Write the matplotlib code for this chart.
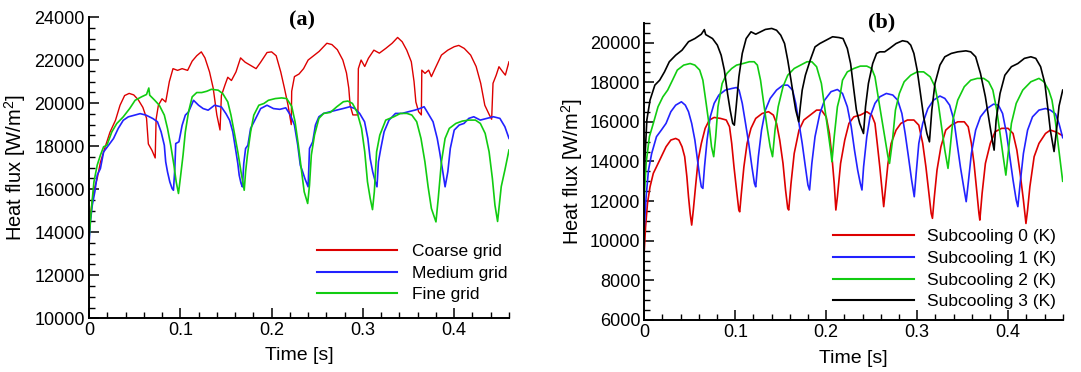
import numpy as np
import matplotlib
matplotlib.use('Agg')
import matplotlib.pyplot as plt
from matplotlib.ticker import MultipleLocator, FuncFormatter

plt.rcParams['font.family'] = ['Liberation Sans', 'DejaVu Sans']
plt.rcParams['mathtext.fontset'] = 'custom'
plt.rcParams['mathtext.rm'] = 'Liberation Sans'
plt.rcParams['mathtext.default'] = 'regular'

# ---------------- Panel (a): grid study ----------------
t_coarse = [0.000, 0.002, 0.005, 0.009, 0.0125, 0.018, 0.023, 0.029, 0.034, 0.039,
            0.044, 0.049, 0.054, 0.059, 0.063, 0.065, 0.069, 0.0725, 0.0735, 0.076,
            0.080, 0.084, 0.088, 0.092, 0.097, 0.102, 0.108, 0.113, 0.118, 0.123,
            0.127, 0.132, 0.136, 0.140, 0.1435, 0.145, 0.149, 0.152, 0.156, 0.161,
            0.166, 0.171, 0.177, 0.183, 0.188, 0.195, 0.200, 0.205, 0.210, 0.214,
            0.218, 0.2215, 0.222, 0.225, 0.230, 0.235, 0.240, 0.246, 0.252, 0.2605,
            0.266, 0.272, 0.278, 0.282, 0.2845, 0.286, 0.289, 0.2945, 0.295, 0.298,
            0.302, 0.306, 0.312, 0.318, 0.325, 0.332, 0.338, 0.343, 0.348, 0.353,
            0.356, 0.358, 0.361, 0.364, 0.3645, 0.368, 0.372, 0.375, 0.379, 0.386,
            0.393, 0.400, 0.405, 0.411, 0.418, 0.424, 0.429, 0.4335, 0.4385, 0.441,
            0.4425, 0.446, 0.449, 0.453, 0.456, 0.460]
q_coarse = [13900, 14950, 15900, 16500, 17250, 18000, 18650, 19200, 19900, 20350,
            20450, 20380, 20150, 19800, 19300, 18100, 17800, 17450, 19250, 19900,
            20200, 20050, 21000, 21600, 21520, 21600, 21520, 21950, 22200, 22380,
            22100, 21450, 20700, 19450, 18750, 20350, 20850, 21200, 21050, 21450,
            22100, 21900, 21750, 21600, 21900, 22350, 22380, 22200, 21450, 20700,
            19900, 19000, 20550, 21230, 21350, 21600, 22000, 22200, 22400, 22780,
            22720, 22480, 22000, 21400, 20700, 19900, 19450, 19450, 21600, 22000,
            21700, 22080, 22460, 22320, 22540, 22780, 23050, 22850, 22460, 21920,
            21000, 20050, 19600, 19450, 21530, 21380, 21530, 21230, 21600, 22230,
            22460, 22620, 22680, 22540, 22230, 21700, 20920, 19900, 19450, 19250,
            20920, 21300, 21690, 21460, 21300, 21920]

t_medium = [0.000, 0.0015, 0.0036, 0.0064, 0.009, 0.0125, 0.016, 0.0214, 0.0268, 0.032,
            0.0375, 0.043, 0.050, 0.056, 0.0625, 0.070, 0.075, 0.079, 0.0825, 0.084,
            0.086, 0.0885, 0.091, 0.0925, 0.094, 0.095, 0.0985, 0.102, 0.1055, 0.109,
            0.1145, 0.120, 0.125, 0.1305, 0.1375, 0.145, 0.150, 0.154, 0.1575, 0.161,
            0.163, 0.1645, 0.1665, 0.168, 0.1695, 0.1715, 0.174, 0.177, 0.1825, 0.188,
            0.195, 0.202, 0.209, 0.2155, 0.2205, 0.225, 0.2286, 0.2314, 0.234, 0.2364,
            0.240, 0.2415, 0.245, 0.248, 0.2518, 0.257, 0.2643, 0.2714, 0.2786, 0.2857,
            0.291, 0.2964, 0.3018, 0.3054, 0.3079, 0.3107, 0.3136, 0.3154, 0.317, 0.3196,
            0.3232, 0.3286, 0.3357, 0.3429, 0.350, 0.3571, 0.3625, 0.367, 0.3714, 0.3768,
            0.3814, 0.384, 0.3875, 0.390, 0.393, 0.3957, 0.400, 0.4054, 0.4107, 0.416,
            0.4214, 0.4286, 0.4357, 0.4429, 0.450, 0.4555, 0.460]
q_medium = [13400, 14480, 15260, 15880, 16650, 16960, 17730, 18040, 18350, 18820,
            19200, 19360, 19440, 19510, 19440, 19280, 19130, 18660, 18040, 17270,
            16800, 16340, 16030, 15950, 16960, 18120, 18200, 18970, 19440, 19590,
            20130, 19900, 19745, 19670, 19900, 19820, 19510, 19200, 18660, 17730,
            17190, 16650, 16270, 16110, 17190, 17890, 18040, 18820, 19280, 19745,
            19900, 19745, 19710, 19780, 19450, 18978, 18050, 17118, 16810, 16500,
            16110, 17893, 18200, 18978, 19365, 19520, 19600, 19675, 19750, 19830,
            19750, 19520, 19133, 18358, 17428, 16810, 16343, 16110, 17273, 17893,
            18668, 19210, 19520, 19520, 19600, 19675, 19750, 19830, 19520, 19133,
            18358, 17738, 16810, 16110, 16810, 17893, 18745, 18978, 19055, 19288,
            19365, 19210, 19288, 19365, 19290, 18900, 18360]

t_fine = [0.000, 0.003, 0.0054, 0.009, 0.0125, 0.016, 0.0196, 0.025, 0.0304, 0.0375,
          0.0446, 0.0505, 0.0575, 0.063, 0.0655, 0.0665, 0.072, 0.077, 0.0825, 0.086,
          0.0895, 0.093, 0.0955, 0.098, 0.100, 0.103, 0.1055, 0.109, 0.113, 0.118,
          0.1235, 0.129, 0.134, 0.1415, 0.1465, 0.152, 0.1555, 0.159, 0.163, 0.1665,
          0.170, 0.1715, 0.1735, 0.177, 0.1805, 0.186, 0.1915, 0.1965, 0.204, 0.211,
          0.2165, 0.222, 0.2257, 0.2293, 0.2329, 0.2357, 0.2395, 0.2415, 0.2435, 0.247,
          0.2518, 0.257, 0.2643, 0.2714, 0.2786, 0.2835, 0.2885, 0.2935, 0.2985, 0.302,
          0.305, 0.308, 0.3105, 0.3125, 0.315, 0.3185, 0.325, 0.3339, 0.3411, 0.3482,
          0.3536, 0.3589, 0.3636, 0.3679, 0.3714, 0.375, 0.380, 0.3825, 0.386, 0.390,
          0.3946, 0.4018, 0.4089, 0.416, 0.4232, 0.4286, 0.4339, 0.4382, 0.4418, 0.4446,
          0.4475, 0.4515, 0.4555, 0.460]
q_fine = [13700, 15260, 16340, 17120, 17580, 17970, 18040, 18660, 19050, 19360,
          19750, 20130, 20290, 20400, 20700, 20365, 20130, 19900, 19440, 18820,
          18040, 17120, 16340, 15800, 16500, 17580, 18660, 19590, 20290, 20490,
          20490, 20550, 20640, 20600, 20440, 20055, 19440, 18660, 17730, 16800,
          15950, 16800, 17580, 18660, 19440, 19900, 19980, 20130, 20210, 20240,
          20210, 19850, 19133, 18048, 16808, 15878, 15335, 16188, 17583, 18513,
          19288, 19520, 19567, 19830, 20063, 20094, 19985, 19598, 18823, 17738,
          16343, 15568, 15050, 15878, 17738, 18513, 19210, 19365, 19520, 19520,
          19443, 19133, 18358, 17273, 16110, 15103, 14480, 15568, 17273, 18358,
          18823, 19055, 19164, 19210, 19210, 19055, 18590, 17738, 16498, 15258,
          14500, 16120, 16890, 17820]

# ---------------- Panel (b): subcooling study ----------------
t_sub0 = [0.000, 0.0014, 0.0035, 0.0063, 0.0099, 0.0134, 0.0187, 0.0239, 0.0292, 0.0345,
          0.038, 0.0415, 0.0444, 0.0468, 0.0486, 0.0504, 0.0521, 0.0539, 0.0563, 0.0592,
          0.0627, 0.0669, 0.0715, 0.0768, 0.0838, 0.0901, 0.0937, 0.0961, 0.0986, 0.1014,
          0.1039, 0.1049, 0.1067, 0.1095, 0.113, 0.1173, 0.1225, 0.1296, 0.1366, 0.1419,
          0.1454, 0.1489, 0.1525, 0.1553, 0.1577, 0.1588, 0.1613, 0.1648, 0.1701, 0.1754,
          0.1824, 0.1894, 0.1947, 0.200, 0.2035, 0.2063, 0.2088, 0.2106, 0.2123, 0.2158,
          0.2204, 0.225, 0.2304, 0.2375, 0.2446, 0.250, 0.2536, 0.2561, 0.2589, 0.2614,
          0.2632, 0.265, 0.2679, 0.2714, 0.2768, 0.2821, 0.2893, 0.2964, 0.3018, 0.3061,
          0.3096, 0.3125, 0.3154, 0.3168, 0.3189, 0.3218, 0.3261, 0.3314, 0.3375, 0.3446,
          0.3518, 0.3561, 0.3596, 0.3625, 0.3654, 0.3679, 0.3689, 0.3714, 0.375, 0.3804,
          0.3857, 0.3929, 0.400, 0.4054, 0.4096, 0.4132, 0.4168, 0.4196, 0.4214, 0.4239,
          0.4286, 0.4339, 0.4411, 0.4464, 0.452, 0.460]
q_sub0 = [9530, 10700, 11880, 12720, 13400, 13730, 14240, 14740, 15080, 15160,
          15080, 14740, 14240, 13230, 12220, 11380, 10790, 11550, 12720, 14070,
          14910, 15670, 16090, 16220, 16170, 16090, 15750, 14910, 13730, 12560,
          11550, 11460, 12390, 13730, 14910, 15670, 16170, 16420, 16510, 16340,
          15920, 15080, 13900, 12560, 11630, 11550, 12890, 14400, 15580, 16090,
          16340, 16590, 16590, 16250, 15410, 14240, 12890, 11550, 12220, 13900,
          15080, 15920, 16250, 16340, 16510, 16340, 15920, 14910, 13730, 12560,
          11720, 12560, 13900, 14910, 15580, 15920, 16090, 16090, 15830, 14910,
          13730, 12560, 11380, 11130, 12220, 13560, 14740, 15580, 15830, 16000,
          16000, 15750, 14910, 13900, 12560, 11380, 11040, 12390, 13900, 14910,
          15500, 15670, 15670, 15410, 14570, 13400, 12050, 10870, 11550, 12720,
          14240, 14910, 15410, 15580, 15500, 15300]

t_sub1 = [0.000, 0.002, 0.0046, 0.0081, 0.0134, 0.0187, 0.0239, 0.0292, 0.0345, 0.0408,
          0.0451, 0.0486, 0.0521, 0.0556, 0.0585, 0.0609, 0.0627, 0.0644, 0.0662, 0.069,
          0.0725, 0.0768, 0.082, 0.0891, 0.0961, 0.1014, 0.1042, 0.1077, 0.1113, 0.1148,
          0.1183, 0.1211, 0.1225, 0.1254, 0.1289, 0.1331, 0.1384, 0.1454, 0.1525, 0.1577,
          0.163, 0.1665, 0.1701, 0.1736, 0.1771, 0.1799, 0.1817, 0.1842, 0.1877, 0.193,
          0.1982, 0.2053, 0.2123, 0.2179, 0.2232, 0.2275, 0.2311, 0.2346, 0.2375, 0.2393,
          0.2411, 0.2446, 0.2482, 0.2536, 0.2589, 0.2661, 0.2732, 0.2786, 0.2832, 0.2868,
          0.2904, 0.2939, 0.2968, 0.2989, 0.3018, 0.3061, 0.3118, 0.3179, 0.325, 0.3304,
          0.3357, 0.3404, 0.3439, 0.3475, 0.3511, 0.3539, 0.3561, 0.3596, 0.3643, 0.3696,
          0.3768, 0.3839, 0.3893, 0.3939, 0.3982, 0.4018, 0.4054, 0.4089, 0.4107, 0.4132,
          0.4168, 0.4214, 0.4268, 0.4339, 0.4411, 0.4464, 0.452, 0.456, 0.460]
q_sub1 = [10700, 12220, 13560, 14400, 15250, 15580, 15920, 16510, 16840, 17010,
          16840, 16510, 15920, 15080, 14070, 13230, 12720, 12640, 13730, 15080,
          16250, 16930, 17350, 17600, 17680, 17730, 17600, 16930, 15920, 14910,
          13730, 12890, 12720, 14240, 15580, 16590, 17180, 17600, 17850, 17850,
          17600, 16930, 15920, 14910, 13730, 12810, 12560, 13900, 15250, 16420,
          17090, 17520, 17630, 17430, 16760, 15750, 14570, 13560, 12890, 12560,
          13730, 15250, 16250, 16930, 17260, 17430, 17350, 17090, 16420, 15410,
          14240, 13060, 12220, 13400, 14910, 15920, 16670, 17090, 17300, 17180,
          16840, 16090, 14910, 13730, 12720, 11970, 12890, 14400, 15580, 16250,
          16670, 16890, 16840, 16420, 15410, 14240, 13060, 12050, 11720, 12890,
          14400, 15580, 16250, 16590, 16670, 16590, 16400, 15900, 15200]

t_sub2 = [0.000, 0.002, 0.0056, 0.0099, 0.0151, 0.0204, 0.0257, 0.031, 0.0363, 0.0433,
          0.0504, 0.0556, 0.0609, 0.0644, 0.068, 0.0715, 0.0739, 0.0763, 0.0785, 0.081,
          0.0856, 0.0908, 0.0961, 0.1014, 0.1085, 0.1155, 0.1208, 0.1243, 0.1278, 0.1313,
          0.1349, 0.1384, 0.1410, 0.1437, 0.1472, 0.1525, 0.1577, 0.1648, 0.1718, 0.1789,
          0.1842, 0.1894, 0.1947, 0.1982, 0.2018, 0.2053, 0.2063, 0.2088, 0.2123, 0.2150,
          0.2179, 0.2232, 0.2304, 0.2375, 0.2446, 0.250, 0.2536, 0.2571, 0.2607, 0.2643,
          0.2679, 0.2696, 0.2725, 0.2761, 0.2804, 0.2857, 0.2929, 0.300, 0.3071, 0.3143,
          0.3196, 0.3232, 0.3268, 0.3304, 0.3339, 0.3357, 0.3393, 0.3446, 0.3518, 0.3589,
          0.3661, 0.3732, 0.3786, 0.3832, 0.3875, 0.3911, 0.3946, 0.3975, 0.400, 0.4036,
          0.4089, 0.4161, 0.425, 0.4339, 0.4393, 0.4446, 0.4482, 0.452, 0.456, 0.460]
q_sub2 = [12220, 13900, 15250, 15920, 16760, 17260, 17600, 18100, 18610, 18860,
          18940, 18860, 18610, 18100, 16930, 15750, 14740, 14240, 15250, 16760,
          17935, 18440, 18690, 18860, 18940, 19030, 19030, 18860, 18100, 16930,
          15750, 14740, 14240, 15580, 16760, 17770, 18350, 18690, 18860, 19030,
          19030, 18780, 17935, 16760, 15580, 14400, 13985, 15250, 16760, 17260,
          18100, 18520, 18690, 18810, 18810, 18690, 18270, 17260, 16250, 15250,
          14240, 13900, 14910, 16590, 17430, 18020, 18350, 18520, 18520, 18270,
          17770, 16930, 15750, 14570, 13650, 14400, 16090, 17095, 17770, 18100,
          18190, 18190, 18020, 17600, 16590, 15410, 14240, 13310, 14400, 15920,
          16930, 17600, 18020, 18190, 18020, 17600, 17095, 16000, 14500, 13000]

t_sub3 = [0.000, 0.0028, 0.0063, 0.0116, 0.0169, 0.0222, 0.0275, 0.0345, 0.0415, 0.0486,
          0.0556, 0.0627, 0.066, 0.0675, 0.075, 0.0803, 0.0845, 0.088, 0.0915, 0.0944,
          0.0972, 0.0990, 0.1010, 0.1040, 0.1077, 0.112, 0.1173, 0.1225, 0.1278, 0.1331,
          0.1401, 0.1454, 0.150, 0.1542, 0.1577, 0.1613, 0.1641, 0.1665, 0.1698, 0.1715,
          0.1736, 0.1771, 0.1824, 0.1877, 0.193, 0.200, 0.207, 0.2141, 0.2185, 0.2232,
          0.2268, 0.2304, 0.2332, 0.2368, 0.2410, 0.2432, 0.2464, 0.2511, 0.2554, 0.2589,
          0.2643, 0.2696, 0.2768, 0.2839, 0.2893, 0.2929, 0.2964, 0.300, 0.3036, 0.3071,
          0.3107, 0.3135, 0.3161, 0.3196, 0.325, 0.3304, 0.3375, 0.3446, 0.3536, 0.3589,
          0.3643, 0.3696, 0.375, 0.3796, 0.3832, 0.3846, 0.3868, 0.3911, 0.3964, 0.4036,
          0.4107, 0.4179, 0.425, 0.4304, 0.4357, 0.4404, 0.4439, 0.4464, 0.4505, 0.453,
          0.456, 0.460]
q_sub3 = [13500, 16090, 17095, 17850, 18100, 18520, 19030, 19360, 19615, 20040,
          20200, 20420, 20650, 20400, 20200, 19870, 19360, 18610, 17430, 16590,
          15920, 15830, 16760, 18270, 19450, 20200, 20540, 20420, 20540, 20660,
          20710, 20620, 20370, 19950, 19110, 18100, 17260, 16590, 16000, 16760,
          17600, 18350, 19110, 19780, 19950, 20120, 20290, 20250, 20200, 19700,
          18940, 17600, 16590, 15920, 15410, 16760, 17935, 18940, 19450, 19530,
          19530, 19700, 19950, 20090, 20040, 19870, 19450, 18610, 17430, 16250,
          15410, 14990, 16590, 17935, 18860, 19280, 19450, 19530, 19580, 19530,
          19280, 18440, 17260, 15920, 14910, 14570, 16090, 17430, 18350, 18780,
          18940, 19200, 19280, 19200, 18780, 17935, 16590, 15580, 14500, 15500,
          16800, 17600]

c_red = '#dd0000'
c_blue = '#2222ff'
c_green = '#11cc11'
c_black = '#000000'


def style_axes(ax, ymin, ymax):
    ax.set_xlim(0, 0.46)
    ax.set_ylim(ymin, ymax)
    for s in ['top', 'right']:
        ax.spines[s].set_visible(False)
    for s in ['left', 'bottom']:
        ax.spines[s].set_linewidth(1.4)
    ax.xaxis.set_major_locator(MultipleLocator(0.1))
    ax.xaxis.set_minor_locator(MultipleLocator(0.02))
    ax.yaxis.set_major_locator(MultipleLocator(2000))
    ax.yaxis.set_minor_locator(MultipleLocator(500))
    ax.xaxis.set_major_formatter(FuncFormatter(lambda v, p: '0' if abs(v) < 1e-9 else f'{v:g}'))
    ax.tick_params(which='both', direction='in', top=False, right=False, labelsize=13)
    ax.tick_params(which='major', length=7, width=1.1)
    ax.tick_params(which='minor', length=4, width=1.0)
    ax.tick_params(axis='x', pad=3)
    ax.tick_params(axis='y', pad=3)
    ax.set_xlabel('Time [s]', fontsize=14)
    ax.set_ylabel(r'Heat flux [W/m$^2$]', fontsize=14.5)


fig = plt.figure(figsize=(10.81, 3.72), dpi=100)

# Panel (a)
ax1 = fig.add_axes([89/1081, 1-318.3/372, 420/1081, 301.3/372])
ax1.plot(t_coarse, q_coarse, color=c_red, lw=1.0, label='Coarse grid')
ax1.plot(t_medium, q_medium, color=c_blue, lw=1.2, label='Medium grid')
ax1.plot(t_fine, q_fine, color=c_green, lw=1.2, label='Fine grid')
style_axes(ax1, 10000, 24000)
ax1.xaxis.set_label_coords(0.5, -0.095)
ax1.yaxis.set_label_coords(-0.145, 0.5)
leg1 = ax1.legend(loc='upper left', bbox_to_anchor=(317/1081, 1-244/372),
                  bbox_transform=fig.transFigure, frameon=False, fontsize=12.5,
                  handlelength=4.6, handletextpad=0.86, labelspacing=0.37,
                  borderpad=0, borderaxespad=0)
for h in leg1.get_lines():
    h.set_linewidth(1.5)
fig.text(302/1081, 1-20/372, '(a)', ha='center', va='center',
         fontfamily='Liberation Serif', fontweight='bold', fontsize=16)

# Panel (b)
ax2 = fig.add_axes([644.3/1081, 1-320/372, 418.4/1081, 297.3/372])
ax2.plot(t_sub0, q_sub0, color=c_red, lw=1.2, label='Subcooling 0 (K)')
ax2.plot(t_sub1, q_sub1, color=c_blue, lw=1.2, label='Subcooling 1 (K)')
ax2.plot(t_sub2, q_sub2, color=c_green, lw=1.2, label='Subcooling 2 (K)')
ax2.plot(t_sub3, q_sub3, color=c_black, lw=1.2, label='Subcooling 3 (K)')
style_axes(ax2, 6000, 21000)
ax2.xaxis.set_label_coords(0.5, -0.10)
ax2.yaxis.set_label_coords(-0.142, 0.5)
leg2 = ax2.legend(loc='upper left', bbox_to_anchor=(833/1081, 1-229/372),
                  bbox_transform=fig.transFigure, frameon=False, fontsize=12.5,
                  handlelength=4.67, handletextpad=0.75, labelspacing=0.38,
                  borderpad=0, borderaxespad=0)
for h in leg2.get_lines():
    h.set_linewidth(1.5)
fig.text(882/1081, 1-22/372, '(b)', ha='center', va='center',
         fontfamily='Liberation Serif', fontweight='bold', fontsize=16)

fig.savefig('out.png', dpi=100)
plt.close(fig)
